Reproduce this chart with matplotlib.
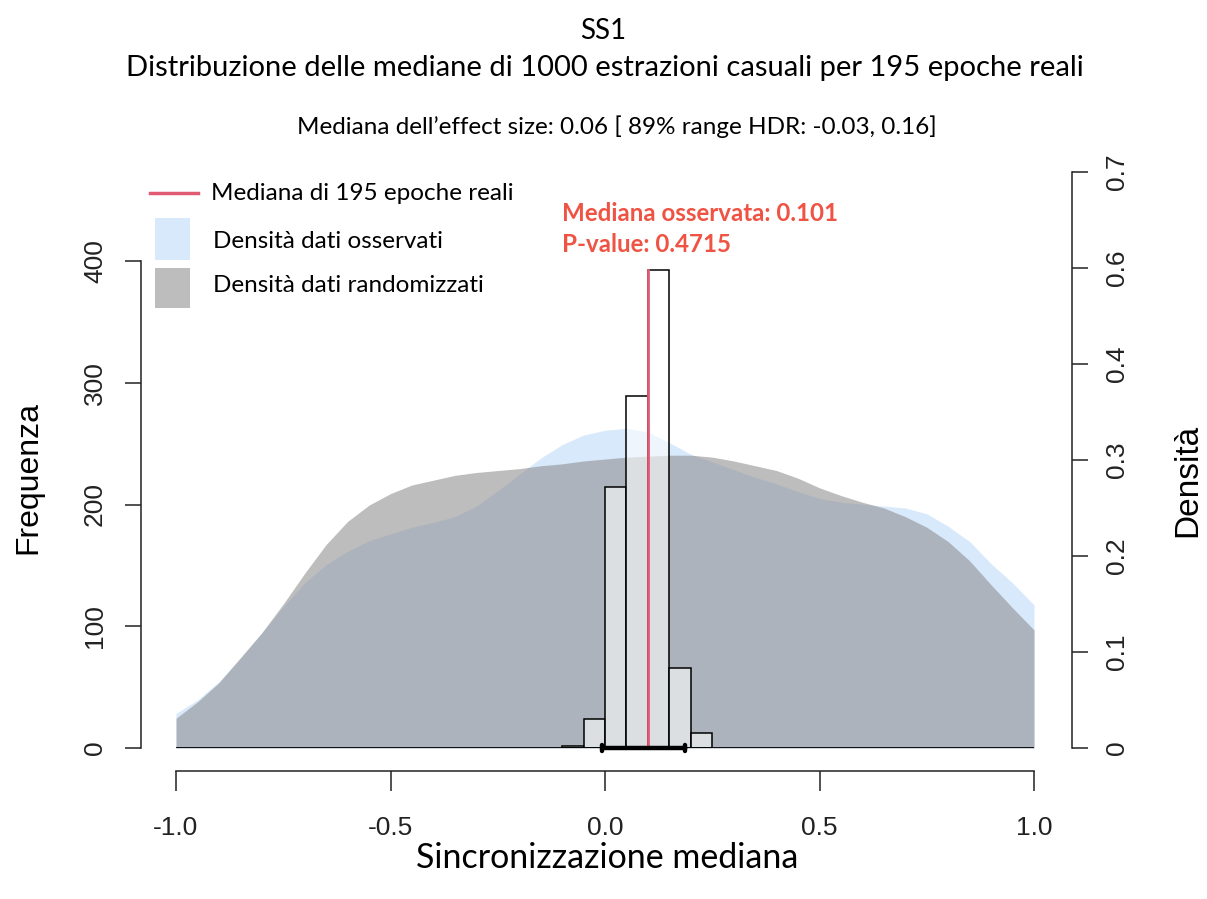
import numpy as np
import matplotlib
matplotlib.use("Agg")
import matplotlib.pyplot as plt
from matplotlib.patches import Rectangle
from matplotlib.lines import Line2D

# --- data -------------------------------------------------------------
bin_edges = [-0.10, -0.05, 0.00, 0.05, 0.10, 0.15, 0.20, 0.25]
bin_counts = [2, 24, 214, 289, 393, 66, 12]

observed_median = 0.101
p_value = 0.4715
interval_low, interval_high = -0.007, 0.187

dens_x = [-1.00, -0.95, -0.90, -0.85, -0.80, -0.75, -0.70, -0.65, -0.60, -0.55,
          -0.50, -0.45, -0.40, -0.35, -0.30, -0.25, -0.20, -0.15, -0.10, -0.05,
          0.00, 0.05, 0.10, 0.15, 0.20, 0.25, 0.30, 0.35, 0.40, 0.45,
          0.50, 0.55, 0.60, 0.65, 0.70, 0.75, 0.80, 0.85, 0.90, 0.95, 1.00]
dens_observed = [0.036, 0.050, 0.069, 0.093, 0.120, 0.147, 0.172, 0.191, 0.205, 0.216,
                 0.223, 0.230, 0.235, 0.241, 0.252, 0.268, 0.285, 0.302, 0.316, 0.326,
                 0.331, 0.333, 0.329, 0.318, 0.306, 0.298, 0.290, 0.282, 0.275, 0.267,
                 0.260, 0.256, 0.254, 0.252, 0.250, 0.244, 0.231, 0.215, 0.192, 0.172, 0.149]
dens_random = [0.031, 0.048, 0.068, 0.094, 0.120, 0.150, 0.182, 0.212, 0.236, 0.253,
               0.265, 0.274, 0.279, 0.284, 0.287, 0.289, 0.291, 0.294, 0.296, 0.299,
               0.301, 0.303, 0.304, 0.305, 0.305, 0.303, 0.299, 0.294, 0.289, 0.281,
               0.271, 0.263, 0.256, 0.250, 0.241, 0.230, 0.215, 0.195, 0.170, 0.146, 0.123]

x_ticks = [-1.0, -0.5, 0.0, 0.5, 1.0]
x_ticklabels = ["-1.0", "-0.5", "0.0", "0.5", "1.0"]
freq_ticks = [0, 100, 200, 300, 400]
dens_ticks = [0, 0.1, 0.2, 0.3, 0.4, 0.5, 0.6]
dens_ticklabels = ["0", "0.1", "0.2", "0.3", "0.4", "0.6", "0.7"]

# --- style ------------------------------------------------------------
W, H = 1207, 899
TEXT_FONT = ["Lato", "DejaVu Sans"]
AXIS_FONT = ["Liberation Sans", "DejaVu Sans"]
BLUE = "#d8e9fc"
GRAY = (138 / 255, 138 / 255, 138 / 255, 0.56)
RED_LINE = "#e05a73"
RED_TEXT = "#ef5343"
AXIS_COLOR = "#222222"
TICK_SIZE = 19


def fx(px):
    return px / W


def fy(py):
    return 1 - py / H


fig = plt.figure(figsize=(W / 100, H / 100), dpi=100)

# plotting region: x=-1 at px 176, x=1 at px 1034; y=0 at px 748, top at px 172
ax = fig.add_axes([fx(176), fy(748), fx(1034) - fx(176), fy(172) - fy(748)])
ax.set_xlim(-1, 1)
ax.set_ylim(0, (748 - 172) / 1.2175)

axd = ax.twinx()
axd.set_ylim(0, 0.6)

# densities on the right-hand scale
axd.fill_between(dens_x, 0, dens_observed, color=BLUE, lw=0, zorder=1)
axd.fill_between(dens_x, 0, dens_random, color=GRAY, lw=0, zorder=2)

# histogram of the medians on the frequency scale (drawn above the densities)
ax.set_zorder(axd.get_zorder() + 1)
ax.patch.set_visible(False)
edges = np.array(bin_edges)
ax.bar(edges[:-1], bin_counts, width=np.diff(edges), align="edge",
       facecolor=(1, 1, 1, 0.58), edgecolor="black", linewidth=1.1, zorder=3)

# baseline
ax.plot([-1, 1], [0, 0], color="black", lw=1.3, zorder=4, solid_capstyle="butt")

# observed median
ax.plot([observed_median, observed_median], [0, max(bin_counts)],
        color=RED_LINE, lw=2.0, zorder=5)

# interval bar
ax.annotate("", xy=(interval_high, 0), xytext=(interval_low, 0),
            arrowprops=dict(arrowstyle="|-|, widthA=0.25, widthB=0.25",
                            lw=3.2, color="black", shrinkA=0, shrinkB=0),
            zorder=6, annotation_clip=False)

# axes styling (R-like detached axes)
for a in (ax, axd):
    a.spines["top"].set_visible(False)

ax.spines["right"].set_visible(False)
ax.spines["left"].set_position(("outward", 35 * 0.72))
ax.spines["left"].set_bounds(0, 400)
ax.spines["bottom"].set_position(("outward", 23 * 0.72))
ax.spines["bottom"].set_bounds(-1, 1)
for s in ("left", "bottom"):
    ax.spines[s].set_linewidth(1.1)
    ax.spines[s].set_color(AXIS_COLOR)

ax.set_yticks(freq_ticks)
ax.set_yticklabels([str(t) for t in freq_ticks], rotation=90, va="center",
                   family=AXIS_FONT, fontsize=TICK_SIZE)
ax.set_xticks(x_ticks)
ax.set_xticklabels(x_ticklabels, family=AXIS_FONT, fontsize=TICK_SIZE)
ax.tick_params(axis="y", length=11.5, width=1.1, pad=13, colors=AXIS_COLOR)
ax.tick_params(axis="x", length=14.4, width=1.1, pad=18, colors=AXIS_COLOR)

for s in ("left", "bottom"):
    axd.spines[s].set_visible(False)
axd.spines["right"].set_position(("outward", 38 * 0.72))
axd.spines["right"].set_bounds(0, 0.6)
axd.spines["right"].set_linewidth(1.1)
axd.spines["right"].set_color(AXIS_COLOR)
axd.set_yticks(dens_ticks)
axd.set_yticklabels(dens_ticklabels, rotation=90, va="center",
                    family=AXIS_FONT, fontsize=TICK_SIZE)
axd.tick_params(axis="y", length=11.5, width=1.1, pad=12, colors=AXIS_COLOR)

# axis titles
fig.text(fx(28), fy(478), "Frequenza", rotation=90, ha="center", va="center",
         family=AXIS_FONT, fontsize=23)
fig.text(fx(1188), fy(480), "Densità", rotation=90, ha="center", va="center",
         family=AXIS_FONT, fontsize=24)
fig.text(fx(607), fy(858), "Sincronizzazione mediana", ha="center", va="center",
         family=TEXT_FONT, fontsize=24.5)

# titles
fig.text(fx(603), fy(31), "SS1", ha="center", va="center",
         family=TEXT_FONT, fontsize=20)
fig.text(fx(605), fy(68),
         "Distribuzione delle mediane di 1000 estrazioni casuali per 195 epoche reali",
         ha="center", va="center", family=TEXT_FONT, fontsize=21)
fig.text(fx(617), fy(127),
         "Mediana dell\u2019effect size: 0.06 [ 89% range HDR: -0.03, 0.16]",
         ha="center", va="center", family=TEXT_FONT, fontsize=17.5)

# annotation of the observed median
fig.text(fx(562), fy(213), f"Mediana osservata: {observed_median}", ha="left",
         va="center", family=TEXT_FONT, fontsize=17.4, fontweight="bold", color=RED_TEXT)
fig.text(fx(562), fy(244), f"P-value: {p_value}", ha="left", va="center",
         family=TEXT_FONT, fontsize=17.4, fontweight="bold", color=RED_TEXT)

# legend
fig.add_artist(Line2D([fx(150), fx(198)], [fy(193), fy(193)], color=RED_LINE, lw=2.5))
fig.add_artist(Rectangle((fx(155), fy(260)), fx(190) - fx(155), fy(218) - fy(260),
                         facecolor=BLUE, edgecolor="none"))
fig.add_artist(Rectangle((fx(155), fy(308)), fx(190) - fx(155), fy(268) - fy(308),
                         facecolor="#bdbdbd", edgecolor="none"))
fig.text(fx(211), fy(194), "Mediana di 195 epoche reali", ha="left", va="center",
         family=TEXT_FONT, fontsize=17.5)
fig.text(fx(213), fy(241), "Densità dati osservati", ha="left", va="center",
         family=TEXT_FONT, fontsize=17.5)
fig.text(fx(213), fy(286), "Densità dati randomizzati", ha="left", va="center",
         family=TEXT_FONT, fontsize=17.5)

fig.savefig("out.png", dpi=100)
